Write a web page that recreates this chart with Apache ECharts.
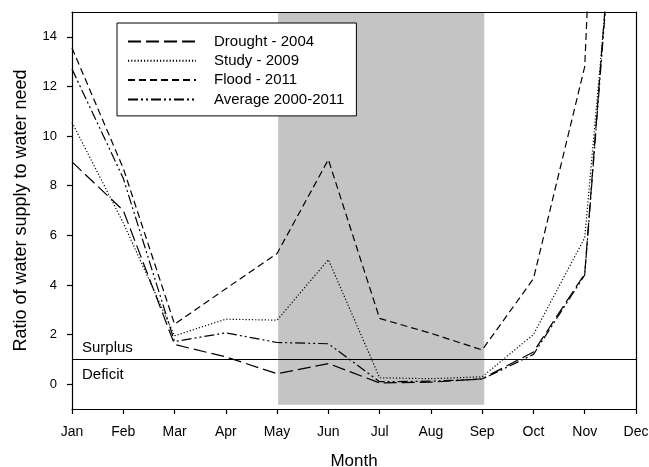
<!DOCTYPE html>
<html>
<head>
<meta charset="utf-8">
<script src="https://cdn.jsdelivr.net/npm/echarts@6/dist/echarts.min.js"></script>
<style>
html,body{margin:0;padding:0;background:#fff;}
#c{width:649px;height:467px;}
</style>
</head>
<body>
<div id="c"></div>
<script>
var months = ['Jan','Feb','Mar','Apr','May','Jun','Jul','Aug','Sep','Oct','Nov','Dec'];
var yTicks = [0, 2, 4, 6, 8, 10, 12, 14];
var drought2004 = [8.96, 7.0, 1.6, 1.1, 0.42, 0.83, 0.05, 0.08, 0.22, 1.3, 4.45, 31.5];
var study2009 = [10.55, 6.5, 1.95, 2.62, 2.58, 5.02, 0.26, 0.22, 0.3, 2.0, 5.9, 29];
var flood2011 = [13.55, 8.7, 2.42, 3.85, 5.27, 9.05, 2.65, 2.05, 1.38, 4.25, 12.8, 60];
var average = [12.7, 8.3, 1.72, 2.07, 1.68, 1.63, 0.1, 0.12, 0.2, 1.2, 4.4, 31];
var seriesNames = ['Drought - 2004', 'Study - 2009', 'Flood - 2011', 'Average 2000-2011'];
var dryStart = 4.02, dryEnd = 8.04, dryBottom = -0.83;
var threshold = 1;

function pairs(arr){ return arr.map(function(v,i){ return [i, v]; }); }

var font = 'Liberation Sans, Arial, sans-serif';
var chart = echarts.init(document.getElementById('c'), null, {renderer:'canvas'});
var lineBase = {type:'line', symbol:'none', clip:true, z:3, silent:true, animation:false,
  itemStyle:{color:'rgba(0,0,0,0)', borderWidth:0}};

function mk(name, data, dash, extra){
  var s = Object.assign({}, lineBase, {
    name: name, data: pairs(data),
    lineStyle: {color:'#000', width:1.2, type: dash}
  });
  return Object.assign(s, extra || {});
}

var option = {
  animation: false,
  backgroundColor: '#fff',
  textStyle: {fontFamily: font},
  grid: {left:72, right:13, top:12, bottom:58, containLabel:false, outerBoundsMode:'none'},
  legend: {
    orient:'vertical', left:117, top:23,
    padding:[11, 12, 9, 10],
    borderColor:'#000', borderWidth:1, backgroundColor:'#fff',
    itemWidth:68, itemHeight:14, itemGap:4.3,
    itemStyle:{color:'rgba(0,0,0,0)', borderWidth:0, opacity:0},
    textStyle:{fontSize:15, color:'#000', fontFamily:font, padding:[0,0,0,13], lineHeight:14},
    data: seriesNames,
    selectedMode:false,
    z: 20
  },
  xAxis: [{
    type:'value', min:0, max:11, interval:1, z:10,
    name:'Month', nameLocation:'middle', nameGap:44,
    nameTextStyle:{fontSize:17, color:'#000', fontFamily:font},
    axisLine:{show:true, onZero:false, lineStyle:{color:'#000', width:1.2}},
    axisTick:{show:true, inside:false, length:5, lineStyle:{color:'#000', width:1.2}},
    axisLabel:{fontSize:14, color:'#000', margin:16, fontFamily:font,
      formatter:function(v){ return months[v]; }},
    splitLine:{show:false}
  },{
    type:'value', min:0, max:11, position:'top', z:10,
    axisLine:{show:true, onZero:false, lineStyle:{color:'#000', width:1.2}},
    axisTick:{show:false}, axisLabel:{show:false}, splitLine:{show:false}
  }],
  yAxis: [{
    type:'value', min:-1, max:15, interval:1, z:10,
    name:'Ratio of water supply to water need', nameLocation:'middle', nameGap:42,
    nameTextStyle:{fontSize:18, color:'#000', fontFamily:font},
    axisLine:{show:true, onZero:false, lineStyle:{color:'#000', width:1.2}},
    axisTick:{show:true, length:5, customValues: yTicks, lineStyle:{color:'#000', width:1.2}},
    axisLabel:{fontSize:13, color:'#000', margin:15, fontFamily:font, customValues: yTicks},
    splitLine:{show:false}
  },{
    type:'value', min:-1, max:15, position:'right', z:10,
    axisLine:{show:true, onZero:false, lineStyle:{color:'#000', width:1.2}},
    axisTick:{show:false}, axisLabel:{show:false}, splitLine:{show:false}
  }],
  series: [
    mk(seriesNames[0], drought2004, [13, 5], {
      markArea:{
        silent:true, z:1,
        itemStyle:{color:'#c4c4c4'},
        data:[[{xAxis:dryStart, yAxis:dryBottom},{xAxis:dryEnd, yAxis:15}]]
      },
      markLine:{
        silent:true, symbol:['none','none'], animation:false,
        lineStyle:{color:'#000', width:1.2, type:'solid'},
        data:[
          {yAxis:threshold, label:{show:true, formatter:'Surplus', position:'insideStartTop',
            color:'#000', fontSize:15, fontFamily:font, distance:[10, 4]}},
          {yAxis:threshold, label:{show:true, formatter:'Deficit', position:'insideStartBottom',
            color:'#000', fontSize:15, fontFamily:font, distance:[10, 8]}}
        ]
      }
    }),
    mk(seriesNames[1], study2009, [1.2, 2]),
    mk(seriesNames[2], flood2011, [7, 4]),
    mk(seriesNames[3], average, [10, 3, 2, 3, 2, 3])
  ]
};
chart.setOption(option);
</script>
</body>
</html>
